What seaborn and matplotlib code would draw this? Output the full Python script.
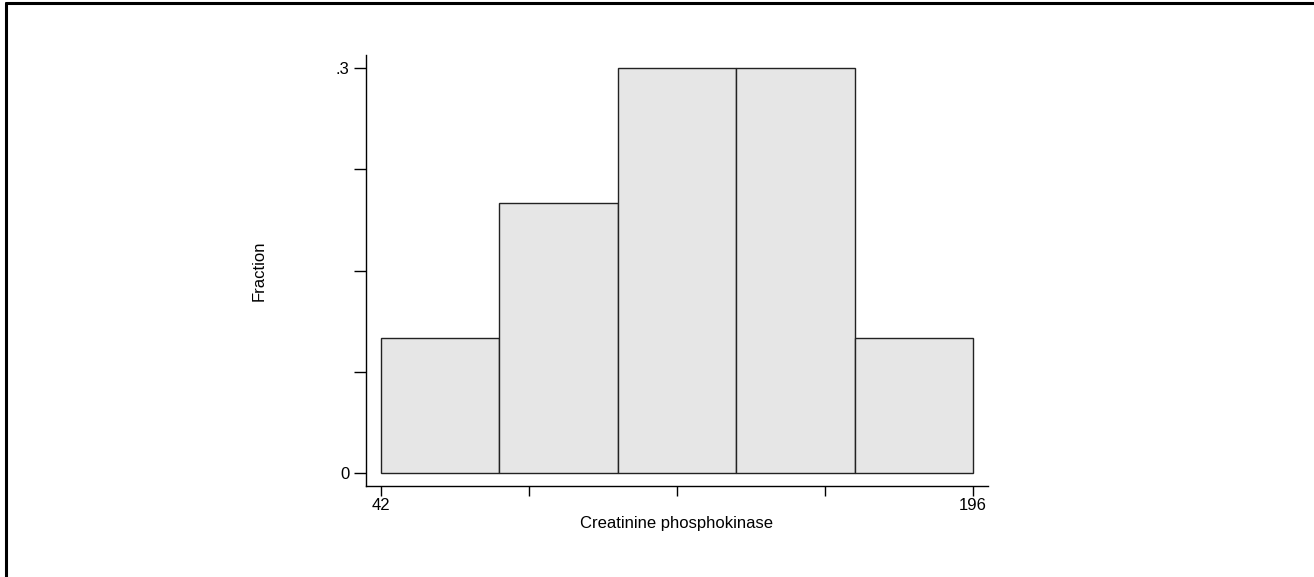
import numpy as np
import pandas as pd
import matplotlib
matplotlib.use("Agg")
import matplotlib.pyplot as plt
from matplotlib.lines import Line2D
import seaborn as sns

# histogram data (fractions per bin)
bin_edges = [42, 72.8, 103.6, 134.4, 165.2, 196]
fractions = [0.1, 0.2, 0.3, 0.3, 0.1]
x_ticks = [42, 80.5, 119, 157.5, 196]
x_ticklabels = ["42", "", "", "", "196"]
y_ticks = [0, 0.075, 0.15, 0.225, 0.3]
y_ticklabels = ["0", "", "", "", ".3"]

centers = [(a + b) / 2 for a, b in zip(bin_edges[:-1], bin_edges[1:])]
df = pd.DataFrame({"cpk": centers, "frac": fractions})

sns.set_style("white")
plt.rcParams["font.family"] = ["Liberation Sans", "DejaVu Sans"]
plt.rcParams["font.size"] = 12
plt.rcParams["text.color"] = "black"
plt.rcParams["axes.labelcolor"] = "black"
plt.rcParams["xtick.color"] = "black"
plt.rcParams["ytick.color"] = "black"

fig = plt.figure(figsize=(13.14, 5.77), dpi=100)
ax = fig.add_axes([366 / 1314, (577 - 486) / 577, (988 - 366) / 1314, (486 - 55) / 577])

sns.histplot(data=df, x="cpk", weights="frac", bins=bin_edges, ax=ax,
             color="#e6e6e6", edgecolor="#222222", linewidth=1.0, alpha=1)

ax.set_xlim(38.1, 199.9)
ax.set_ylim(-0.0097, 0.3097)
ax.set_xticks(x_ticks)
ax.set_xticklabels(x_ticklabels)
ax.set_yticks(y_ticks)
ax.set_yticklabels(y_ticklabels)
ax.tick_params(axis="y", direction="out", length=9, width=1, labelsize=12, pad=3, left=True)
ax.tick_params(axis="x", direction="out", length=7, width=1, labelsize=12, pad=2, bottom=True)
ax.set_xlabel("Creatinine phosphokinase", fontsize=12, labelpad=2)
ax.set_ylabel("Fraction", fontsize=12, labelpad=50)

for s in ["top", "right"]:
    ax.spines[s].set_visible(False)
for s in ["left", "bottom"]:
    ax.spines[s].set_color("black")
    ax.spines[s].set_linewidth(1)

# page border (left and top edges)
fig.add_artist(Line2D([6 / 1314, 6 / 1314], [0, 1 - 3 / 577], color="black", linewidth=2.2,
                      transform=fig.transFigure))
fig.add_artist(Line2D([6 / 1314, 1], [1 - 3 / 577, 1 - 3 / 577], color="black", linewidth=2.2,
                      transform=fig.transFigure))

fig.savefig("out.png", dpi=100)
